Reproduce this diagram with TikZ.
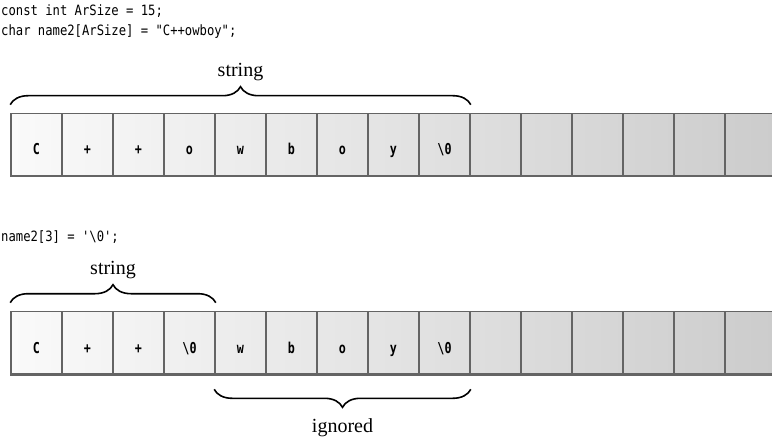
\documentclass[tikz,border=0pt]{standalone}
\usepackage{fontspec}
\setmainfont{Liberation Serif}
\setmonofont{DejaVu Sans Mono}
\usetikzlibrary{positioning, calc, decorations.pathreplacing}

\definecolor{cellline}{RGB}{100,100,100}
\newcommand{\nulchar}{\textbackslash0}

\tikzset{
  cell/.style={draw=cellline, line width=1.6pt, minimum width=51pt, minimum height=62pt,
    inner sep=0pt, text height=21pt, text depth=0pt,
    font=\fontsize{15}{17}\selectfont\ttfamily\bfseries\addfontfeature{FakeStretch=0.78}},
  codeline/.style={anchor=base west, inner sep=0pt,
    font=\fontsize{14.2}{16}\selectfont\ttfamily\addfontfeature{FakeStretch=0.86}},
  bracelbl/.style={font=\fontsize{20}{24}\selectfont},
  curly/.style={decorate, decoration={brace, amplitude=18pt}, line width=1.6pt},
}

\begin{document}
\begin{tikzpicture}[x=1pt, y=1pt]
  \path[use as bounding box, clip] (0,0) rectangle (772,440);

  % source lines
  \node[codeline] (decl) at (1,424) {const int ArSize = 15;};
  \node[codeline] (init) at (1,404) {char name2[ArSize] = "C++owboy";};
  \node[codeline] (trunc) at (1,198) {name2[3] = '\nulchar';};

  % first array
  \foreach \ch [count=\i] in {C,+,+,o,w,b,o,y,\nulchar,{},{},{},{},{},{}} {
    \pgfmathsetmacro{\lft}{2+1.2*(\i-1)}
    \pgfmathsetmacro{\rgt}{\lft+1.2}
    \node[cell, left color=black!\lft, right color=black!\rgt] (a\i) at ({36.5+51*(\i-1)},295.5) {\ch};
  }
  \draw[cellline, line width=2.4pt] (a1.south west) -- (a15.south east);

  % second array
  \foreach \ch [count=\i] in {C,+,+,\nulchar,w,b,o,y,\nulchar,{},{},{},{},{},{}} {
    \pgfmathsetmacro{\lft}{2+1.2*(\i-1)}
    \pgfmathsetmacro{\rgt}{\lft+1.2}
    \node[cell, left color=black!\lft, right color=black!\rgt] (b\i) at ({36.5+51*(\i-1)},97.5) {\ch};
  }
  \draw[cellline, line width=2.4pt] (b1.south west) -- (b15.south east);

  % braces
  \draw[curly] ([yshift=8pt]a1.north west) -- ([yshift=8pt]a9.north east)
    node[bracelbl, midway, yshift=33pt] (str1) {string};
  \draw[curly] ([yshift=8pt]b1.north west) -- ([yshift=8pt]b4.north east)
    node[bracelbl, midway, yshift=33pt] (str2) {string};
  \draw[curly] ([yshift=-15pt]b9.south east) -- ([yshift=-15pt]b5.south west)
    node[bracelbl, midway, yshift=-38pt] (ign) {ignored};
\end{tikzpicture}
\end{document}
